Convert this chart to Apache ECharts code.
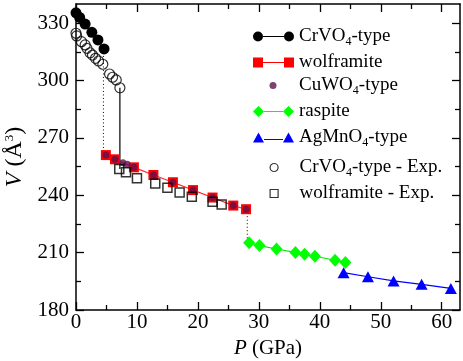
<!DOCTYPE html>
<html>
<head>
<meta charset="utf-8">
<script src="https://cdn.jsdelivr.net/npm/echarts@6/dist/echarts.min.js"></script>
<style>
  html, body { margin: 0; padding: 0; background: #fff; }
  #chart { width: 463px; height: 361px; }
</style>
</head>
<body>
<div id="chart"></div>
<script>
// [P (GPa), V (Å^3)]
const crvo4Calc = [[0.0, 335.4], [0.6, 333.0], [1.5, 329.5], [2.6, 325.2], [3.6, 321.2], [4.6, 316.5]];
const wolframiteCalc = [[4.9, 261.0], [6.4, 258.8], [9.5, 254.6], [12.7, 250.6], [15.9, 246.8],
  [19.2, 242.7], [22.4, 238.8], [25.8, 234.6], [27.9, 232.7]];
const cuwo4Calc = [[4.9, 261.0], [6.4, 258.8], [7.7, 257.0], [8.4, 256.2], [9.5, 254.6], [12.7, 250.6],
  [15.9, 246.8], [19.2, 242.7], [22.4, 238.8], [25.8, 234.6], [27.9, 232.7]];
const raspiteCalc = [[28.4, 215.2], [30.1, 213.7], [32.9, 211.9], [36.0, 210.1], [37.5, 209.1],
  [39.2, 208.1], [42.5, 206.0], [44.2, 204.9]];
const agmno4Calc = [[43.9, 199.5], [47.9, 197.4], [52.1, 195.2], [56.7, 193.4], [61.5, 191.3]];
const crvo4Exp = [[0.0, 324.7], [0.1, 323.3], [0.9, 320.3], [1.5, 318.6], [1.8, 316.8], [2.3, 314.5],
  [2.7, 313.3], [3.2, 311.6], [3.7, 310.2], [4.4, 308.5], [5.5, 303.4], [6.0, 301.7], [6.6, 300.3], [7.2, 296.2]];
const wolframiteExp = [[7.1, 253.7], [8.2, 252.0], [10.0, 248.9], [13.0, 246.2], [15.0, 243.9],
  [17.0, 241.5], [19.0, 239.2], [22.4, 236.6], [23.9, 235.1]];
// phase transitions
const calcSteps = [
  [[4.5, 316.5], [4.5, 261.0]],
  [[28.1, 232.7], [28.1, 215.2]],
  [[44.0, 204.9], [44.0, 199.5]]
];
const expStep = [[7.2, 296.2], [7.2, 253.7]];

const xMajor = [0, 10, 20, 30, 40, 50, 60];
const xMinor = [5, 15, 25, 35, 45, 55];
const yMajor = [180, 210, 240, 270, 300, 330];
const yMinor = [195, 225, 255, 285, 315];

const FONT = 'Liberation Serif';
const black = '#000';

function xAx(pos, ticks, len, main) {
  return {
    type: 'value', min: 0, max: 63, position: pos,
    axisLine: { show: main, onZero: false, lineStyle: { color: black, width: 1.5 } },
    axisTick: { show: true, inside: true, length: len, customValues: ticks, lineStyle: { color: black, width: 1.3 } },
    axisLabel: { show: false },
    splitLine: { show: false }
  };
}
function yAx(pos, ticks, len, main) {
  return {
    type: 'value', min: 180, max: 340, position: pos,
    axisLine: { show: main, onZero: false, lineStyle: { color: black, width: 1.5 } },
    axisTick: { show: true, inside: true, length: len, customValues: ticks, lineStyle: { color: black, width: 1.3 } },
    axisLabel: { show: false },
    splitLine: { show: false }
  };
}

const xBottom = xAx('bottom', xMajor, 8, true);
xBottom.axisLabel = { show: true, customValues: xMajor, margin: 2, color: black, fontSize: 21, fontFamily: FONT };
xBottom.name = '{i|P} (GPa)';
xBottom.nameLocation = 'middle';
xBottom.nameGap = 28;
xBottom.nameTextStyle = { color: black, fontSize: 21, fontFamily: FONT,
  rich: { i: { fontStyle: 'italic', fontSize: 21, fontFamily: FONT } } };

const yLeft = yAx('left', yMajor, 8, true);
yLeft.axisLabel = { show: true, customValues: yMajor, margin: 7, color: black, fontSize: 21, fontFamily: FONT };
yLeft.name = '{i|V} (Å{sup|3})';
yLeft.nameLocation = 'middle';
yLeft.nameGap = 34;
yLeft.nameTextStyle = { color: black, fontSize: 24, fontFamily: FONT,
  rich: { i: { fontStyle: 'italic', fontSize: 24, fontFamily: FONT },
          sup: { fontSize: 13, fontFamily: FONT, verticalAlign: 'top', lineHeight: 24 } } };

const circlesIcon = 'path://M0,5A5,5 0 1,1 10,5A5,5 0 1,1 0,5Z M10,4.4H31V5.6H10Z M31,5A5,5 0 1,1 41,5A5,5 0 1,1 31,5Z';
const squaresIcon = 'path://M0,0H10V10H0Z M10,4.4H31V5.6H10Z M31,0H41V10H31Z';
const diamondsIcon = 'path://M5.5,0L11,5.5L5.5,11L0,5.5Z M11,4.9H30V6.1H11Z M35.5,0L41,5.5L35.5,11L30,5.5Z';
const trianglesIcon = 'path://M5.5,0L11,10H0Z M11,6.4H30V7.6H11Z M35.5,0L41,10H30Z';
// single markers centred in a 41-wide box (the two bare moveTo points only widen the box)
const dotIcon = 'path://M0,3.5M41,3.5M16.5,3.5A3.5,3.5 0 1,1 23.5,3.5A3.5,3.5 0 1,1 16.5,3.5Z';
const ringIcon = 'path://M0,4M41,4M16.5,4A4,4 0 1,1 24.5,4A4,4 0 1,1 16.5,4Z';
const squareIcon = 'path://M0,4M41,4M16.5,0H24.5V8H16.5Z';

function label(name) {
  return '{n|' + name.replace('O4', 'O}{s|4}{n|') + '}';
}
const rich = {
  n: { fontSize: 19, fontFamily: FONT, color: black, lineHeight: 22 },
  s: { fontSize: 12, fontFamily: FONT, color: black, lineHeight: 14, verticalAlign: 'bottom' }
};
function legendRow(name, icon, cy, w, h, style) {
  return {
    data: [{ name: name, icon: icon, itemStyle: style }],
    left: 253, top: cy - 8, orient: 'vertical', padding: 0,
    itemWidth: w, itemHeight: h, itemGap: 0, selectedMode: false,
    formatter: label,
    textStyle: { fontSize: 19, fontFamily: FONT, color: black, rich: rich }
  };
}
const openStyle = { color: 'rgba(0,0,0,0)', borderColor: black, borderWidth: 1.2 };

const option = {
  animation: false,
  backgroundColor: '#fff',
  grid: { left: 76, right: 3, top: 4, bottom: 51, outerBoundsMode: 'none', containLabel: false },
  xAxis: [xBottom, xAx('bottom', xMinor, 5, false), xAx('top', xMajor, 8, true), xAx('top', xMinor, 5, false)],
  yAxis: [yLeft, yAx('left', yMinor, 5, false), yAx('right', yMajor, 8, true), yAx('right', yMinor, 5, false)],
  legend: [
    legendRow('CrVO4-type', circlesIcon, 35, 41, 10, { color: black }),
    legendRow('wolframite', squaresIcon, 61, 41, 10, { color: '#ff0000' }),
    legendRow('CuWO4-type', dotIcon, 84, 41, 7, { color: '#5e1250' }),
    legendRow('raspite', diamondsIcon, 110, 41, 11, { color: '#00ff00' }),
    legendRow('AgMnO4-type', trianglesIcon, 136, 41, 10, { color: '#0000ff' }),
    legendRow('CrVO4-type - Exp.', ringIcon, 166, 41, 8, openStyle),
    legendRow('wolframite - Exp.', squareIcon, 192, 41, 8, openStyle)
  ],
  series: [
    ...calcSteps.map(d => ({ type: 'line', data: d, symbol: 'none', silent: true, z: 1,
      lineStyle: { color: black, width: 1, type: [1, 2.5] } })),
    { type: 'line', data: expStep, symbol: 'none', silent: true, z: 1, lineStyle: { color: black, width: 1.2 } },
    { name: 'CrVO4-type', type: 'line', data: crvo4Calc, symbol: 'circle', symbolSize: 11, z: 2,
      lineStyle: { color: black, width: 1 }, itemStyle: { color: black } },
    { name: 'wolframite', type: 'line', data: wolframiteCalc, symbol: 'rect', symbolSize: 10, z: 2,
      lineStyle: { color: '#ff2a2a', width: 1.2 }, itemStyle: { color: '#ff0000' } },
    { name: 'CuWO4-type', type: 'scatter', data: cuwo4Calc, symbol: 'circle', symbolSize: 7, z: 5,
      itemStyle: { color: '#5e1250' } },
    { name: 'raspite', type: 'line', data: raspiteCalc, symbol: 'diamond', symbolSize: [12, 13], z: 2,
      lineStyle: { color: '#10e010', width: 1.2 }, itemStyle: { color: '#00ff00' } },
    { name: 'AgMnO4-type', type: 'line', data: agmno4Calc, symbol: 'triangle', symbolSize: [12, 11], z: 2,
      lineStyle: { color: '#0000ff', width: 1.2 }, itemStyle: { color: '#0000ff' } },
    { name: 'CrVO4-type - Exp.', type: 'scatter', data: crvo4Exp, symbol: 'circle', symbolSize: 10, z: 6,
      itemStyle: openStyle },
    { name: 'wolframite - Exp.', type: 'scatter', data: wolframiteExp, symbol: 'rect', symbolSize: 9, z: 6,
      itemStyle: { color: 'rgba(0,0,0,0)', borderColor: black, borderWidth: 1.5 } }
  ]
};

const chart = echarts.init(document.getElementById('chart'), null, { renderer: 'canvas' });
chart.setOption(option);
</script>
</body>
</html>
